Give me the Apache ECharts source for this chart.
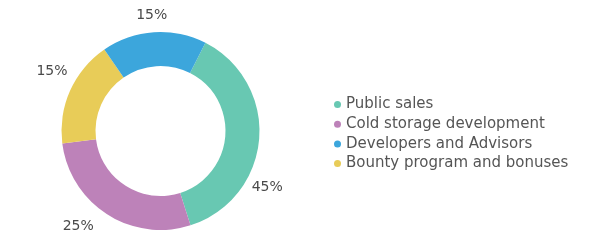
<!DOCTYPE html>
<html>
<head>
<meta charset="utf-8">
<script src="https://cdn.jsdelivr.net/npm/echarts@6/dist/echarts.min.js"></script>
<style>html,body{margin:0;padding:0;background:#fff}#c{width:601px;height:252px}</style>
</head>
<body>
<div id="c"></div>
<script>
// Slices in clockwise drawing order
const categories = ['Public sales', 'Cold storage development', 'Bounty program and bonuses', 'Developers and Advisors'];
// Arc sizes (share of the ring)
const sliceValues = [37.6, 27.9, 17.4, 17.1];
// Percent labels as printed on the chart
const sliceLabels = ['45%', '25%', '15%', '15%'];
const sliceColors = ['#68c8b2', '#bd82b9', '#e8cc58', '#3ca6dc'];
// Legend order as shown
const legendOrder = ['Public sales', 'Cold storage development', 'Developers and Advisors', 'Bounty program and bonuses'];

// label nudges (style only) applied on top of the library's outside-label layout
const labelNudge = [[-27.5, 47], [2, 4], [16.5, -15.5], [24, -6.5]];

const chart = echarts.init(document.getElementById('c'), null, {renderer: 'canvas'});
const font = 'DejaVu Sans';
chart.setOption({
  animation: false,
  backgroundColor: '#fff',
  legend: {
    orient: 'vertical',
    left: 329,
    top: 92,
    data: legendOrder,
    icon: 'circle',
    itemWidth: 7,
    itemHeight: 7,
    itemGap: 4.7,
    textStyle: {fontFamily: font, fontSize: 15, color: '#555'}
  },
  series: [{
    type: 'pie',
    center: [160.5, 131],
    radius: [65, 99],
    startAngle: 63,
    avoidLabelOverlap: false,
    label: {
      show: true,
      position: 'outside',
      fontFamily: font,
      fontSize: 14,
      color: '#4a4a4a',
      formatter: p => sliceLabels[p.dataIndex]
    },
    labelLine: {show: false, length: 10, length2: 5},
    labelLayout: p => ({dx: labelNudge[p.dataIndex][0], dy: labelNudge[p.dataIndex][1]}),
    emphasis: {disabled: true},
    data: categories.map((n, i) => ({name: n, value: sliceValues[i], itemStyle: {color: sliceColors[i]}}))
  }]
});
</script>
</body>
</html>
